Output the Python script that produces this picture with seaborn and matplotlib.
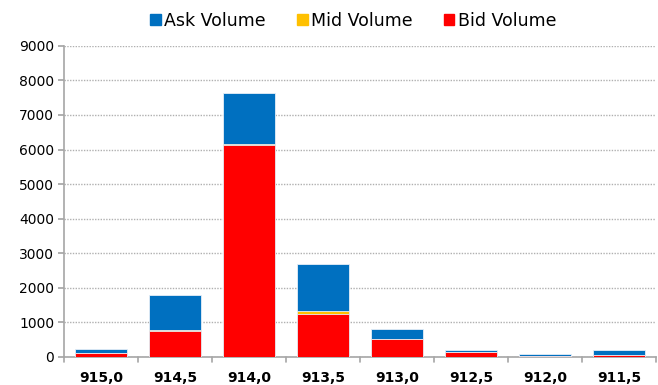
import matplotlib
matplotlib.use("Agg")
import matplotlib.pyplot as plt
import seaborn as sns
import pandas as pd
from matplotlib.patches import Patch

prices = ["915,0", "914,5", "914,0", "913,5", "913,0", "912,5", "912,0", "911,5"]
bid_volume = [100, 760, 6130, 1230, 510, 140, 15, 50]
mid_volume = [10, 30, 30, 90, 20, 10, 5, 10]
ask_volume = [110, 1010, 1480, 1370, 270, 60, 70, 130]

ask_color = "#0070C0"
mid_color = "#FFC000"
bid_color = "#FF0000"

sns.set_theme(style="white")
plt.rcParams["font.family"] = ["DejaVu Sans"]
plt.rcParams["text.color"] = "black"
plt.rcParams["xtick.color"] = "black"
plt.rcParams["ytick.color"] = "black"

df = pd.DataFrame({"price": prices, "bid": bid_volume, "mid": mid_volume, "ask": ask_volume})
df["bid_mid"] = df["bid"] + df["mid"]
df["total"] = df["bid_mid"] + df["ask"]

fig = plt.figure(figsize=(6.58, 3.85), dpi=100)
ax = fig.add_axes([0.097, 0.073, 0.9, 0.808])

# Stacked bars drawn as overlapping cumulative layers
for col, color in [("total", ask_color), ("bid_mid", mid_color), ("bid", bid_color)]:
    sns.barplot(data=df, x="price", y=col, color=color, width=0.7,
                edgecolor="#E6EEF7", linewidth=0.6, saturation=1, ax=ax, zorder=3)

ax.set_ylim(0, 9000)
ax.set_xlim(-0.5, len(prices) - 0.5)
ax.set_yticks(range(0, 9001, 1000))
ax.set_xlabel("")
ax.set_ylabel("")

ax.grid(axis="y", linestyle=(0, (1, 1)), color="#B0B0B0", linewidth=1.0, zorder=0)
ax.grid(axis="x", visible=False)
for s in ["top", "right"]:
    ax.spines[s].set_visible(False)
for s in ["left", "bottom"]:
    ax.spines[s].set_color("#A6A6A6")
    ax.spines[s].set_linewidth(1.2)

ax.tick_params(axis="y", left=True, length=4, color="#A6A6A6", labelcolor="black",
               labelsize=10, pad=3)
ax.tick_params(axis="x", bottom=False, labelcolor="black", labelsize=10, pad=4)
for lbl in ax.get_xticklabels():
    lbl.set_fontweight("bold")

# category boundary ticks on the x axis
for b in range(len(prices) + 1):
    ax.plot([b - 0.5, b - 0.5], [0, -0.015], transform=ax.get_xaxis_transform(),
            color="#A6A6A6", linewidth=1.2, clip_on=False)

handles = [Patch(color=ask_color, label="Ask Volume"),
           Patch(color=mid_color, label="Mid Volume"),
           Patch(color=bid_color, label="Bid Volume")]
fig.legend(handles=handles, loc="upper center", bbox_to_anchor=(0.537, 1.01), ncol=3,
           frameon=False, fontsize=12.5, handlelength=0.6, handleheight=0.6,
           handletextpad=0.2, columnspacing=1.8)

fig.savefig("out.png", dpi=100)
